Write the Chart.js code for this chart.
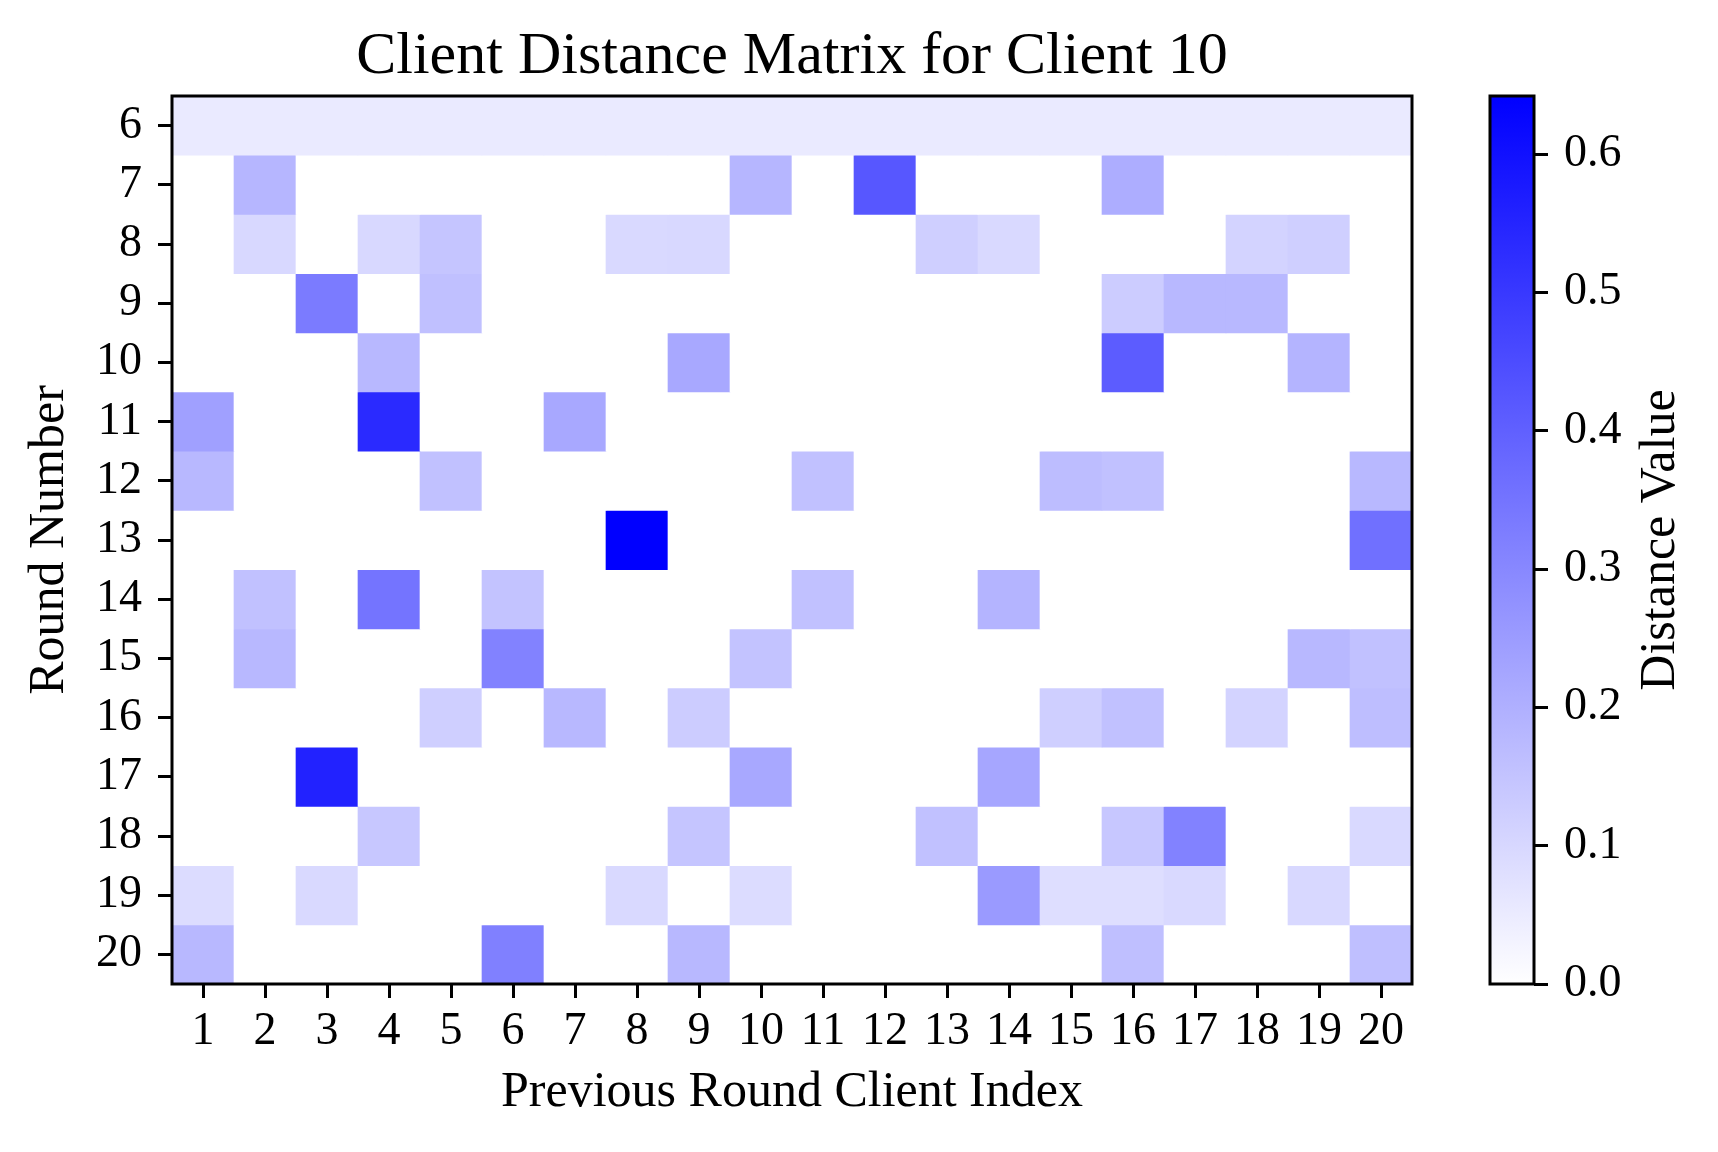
<!DOCTYPE html>
<html>
<head>
<meta charset="utf-8">
<title>Client Distance Matrix for Client 10</title>
<script src="https://cdn.jsdelivr.net/npm/chart.js@4.4.1/dist/chart.umd.min.js"></script>
<style>
  html, body { margin: 0; padding: 0; background: #fff; }
  #wrap { position: relative; width: 1718px; height: 1152px; }
  #heatmap { position: absolute; left: 0; top: 0; }
  #colorbar { position: absolute; left: 1440px; top: 0; }
</style>
</head>
<body>
<div id="wrap">
  <canvas id="heatmap" width="1440" height="1152"></canvas>
  <canvas id="colorbar" width="278" height="1152"></canvas>
</div>
<script>
// previous round client index (columns) and round number (rows)
const clients = ['1','2','3','4','5','6','7','8','9','10','11','12','13','14','15','16','17','18','19','20'];
const rounds = [6, 7, 8, 9, 10, 11, 12, 13, 14, 15, 16, 17, 18, 19, 20];

// distance values, one row per round
const distance = [
    [.052,.052,.052,.052,.052,.052,.052,.052,.052,.052,.052,.052,.052,.052,.052,.052,.052,.052,.052,.052],
    [0,.184,0,0,0,0,0,0,0,.184,0,.424,0,0,0,.206,0,0,0,0],
    [0,.098,0,.098,.145,0,0,.096,.097,0,0,0,.121,.095,0,0,0,.110,.120,0],
    [0,0,.333,0,.159,0,0,0,0,0,0,0,0,0,0,.128,.180,.178,0,0],
    [0,0,0,.180,0,0,0,0,.220,0,0,0,0,0,0,.410,0,0,.190,0],
    [.240,0,0,.535,0,0,.220,0,0,0,0,0,0,0,0,0,0,0,0,0],
    [.180,0,0,0,.155,0,0,0,0,0,.155,0,0,0,.165,.155,0,0,0,.180],
    [0,0,0,0,0,0,0,.642,0,0,0,0,0,0,0,0,0,0,0,.360],
    [0,.155,0,.350,0,.150,0,0,0,0,.155,0,0,.190,0,0,0,0,0,0],
    [0,.180,0,0,0,.315,0,0,0,.152,0,0,0,0,0,0,0,0,.180,.155],
    [0,0,0,0,.120,0,.180,0,.128,0,0,0,0,0,.120,.155,0,.110,0,.163],
    [0,0,.557,0,0,0,0,0,0,.220,0,0,0,.225,0,0,0,0,0,0],
    [0,0,0,.140,0,0,0,0,.145,0,0,0,.155,0,0,.140,.315,0,0,.096],
    [.088,0,.095,0,0,0,0,.095,0,.088,0,0,0,.255,.082,.082,.095,0,.098,0],
    [.180,0,0,0,0,.320,0,0,.180,0,0,0,0,0,0,.160,0,0,0,.160]
];

const colorbarTicks = [0, 0.1, 0.2, 0.3, 0.4, 0.5, 0.6];

const vmax = Math.max(...distance.flat());
const FONT = "'Liberation Serif', 'Times New Roman', serif";

// white -> blue, linear
function colorFor(v) {
    const t = Math.min(Math.max(v / vmax, 0), 1);
    const c = Math.round(255 * (1 - t));
    return `rgb(${c}, ${c}, 255)`;
}

const frame = {
    id: 'frame',
    afterDraw(chart) {
        const { ctx, chartArea: a } = chart;
        ctx.save();
        ctx.strokeStyle = '#000';
        ctx.lineWidth = 3;
        ctx.strokeRect(a.left, a.top, a.right - a.left, a.bottom - a.top);
        ctx.restore();
    }
};

const heatTitle = {
    id: 'heatTitle',
    afterDraw(chart) {
        const { ctx, chartArea: a } = chart;
        ctx.save();
        ctx.fillStyle = '#000';
        ctx.font = `60px ${FONT}`;
        ctx.textAlign = 'center';
        ctx.textBaseline = 'alphabetic';
        ctx.fillText('Client Distance Matrix for Client 10', (a.left + a.right) / 2, 73);
        ctx.restore();
    }
};

const tickGrid = {
    display: true,
    drawOnChartArea: false,
    drawTicks: true,
    tickLength: 14,
    tickWidth: 3,
    tickColor: '#000'
};

new Chart(document.getElementById('heatmap'), {
    type: 'bar',
    data: {
        labels: clients,
        datasets: rounds.map((r, i) => ({
            label: 'Round ' + r,
            data: distance[i].map(() => [r - 0.5, r + 0.5]),
            backgroundColor: distance[i].map(colorFor),
            borderWidth: 0,
            barPercentage: 1,
            categoryPercentage: 1
        }))
    },
    options: {
        responsive: false,
        animation: false,
        devicePixelRatio: 1,
        layout: { padding: { top: 96, right: 28, left: 0, bottom: 0 } },
        plugins: { legend: { display: false }, tooltip: { enabled: false } },
        scales: {
            x: {
                stacked: true,
                offset: true,
                grid: { ...tickGrid, offset: false },
                border: { display: false },
                ticks: { color: '#000', padding: 6, maxRotation: 0, autoSkip: false, font: { family: FONT, size: 46 } },
                title: { display: true, text: 'Previous Round Client Index', color: '#000',
                         font: { family: FONT, size: 50 }, padding: { top: 0, bottom: 29 } },
                afterFit: s => { s.height = 168; }
            },
            y: {
                type: 'linear',
                reverse: true,
                min: 5.5,
                max: 20.5,
                grid: tickGrid,
                border: { display: false },
                afterBuildTicks: s => { s.ticks = rounds.map(v => ({ value: v })); },
                ticks: { color: '#000', padding: 16, font: { family: FONT, size: 46 } },
                title: { display: true, text: 'Round Number', color: '#000',
                         font: { family: FONT, size: 50 }, padding: { top: 20, bottom: 0 } },
                afterFit: s => { s.width = 172; }
            }
        }
    },
    plugins: [frame, heatTitle]
});

const cbLabel = {
    id: 'cbLabel',
    afterDraw(chart) {
        const { ctx, chartArea: a } = chart;
        ctx.save();
        ctx.fillStyle = '#000';
        ctx.font = `50px ${FONT}`;
        ctx.textAlign = 'center';
        ctx.textBaseline = 'middle';
        ctx.translate(221, (a.top + a.bottom) / 2);
        ctx.rotate(-Math.PI / 2);
        ctx.fillText('Distance Value', 0, 0);
        ctx.restore();
    }
};

new Chart(document.getElementById('colorbar'), {
    type: 'bar',
    data: {
        labels: [''],
        datasets: [{
            data: [[0, vmax]],
            backgroundColor: (c) => {
                const area = c.chart.chartArea;
                if (!area) return colorFor(vmax / 2);
                const g = c.chart.ctx.createLinearGradient(0, area.bottom, 0, area.top);
                g.addColorStop(0, colorFor(0));
                g.addColorStop(1, colorFor(vmax));
                return g;
            },
            borderWidth: 0,
            barPercentage: 1,
            categoryPercentage: 1
        }]
    },
    options: {
        responsive: false,
        animation: false,
        devicePixelRatio: 1,
        layout: { padding: { top: 96, right: 0, left: 50, bottom: 168 } },
        plugins: { legend: { display: false }, tooltip: { enabled: false } },
        scales: {
            x: { display: false },
            y: {
                position: 'right',
                min: 0,
                max: vmax,
                grid: tickGrid,
                border: { display: false },
                afterBuildTicks: s => { s.ticks = colorbarTicks.map(v => ({ value: v })); },
                ticks: { color: '#000', padding: 16, font: { family: FONT, size: 46 },
                         callback: v => Number(v).toFixed(1) },
                afterFit: s => { s.width = 184; }
            }
        }
    },
    plugins: [frame, cbLabel]
});
</script>
</body>
</html>
